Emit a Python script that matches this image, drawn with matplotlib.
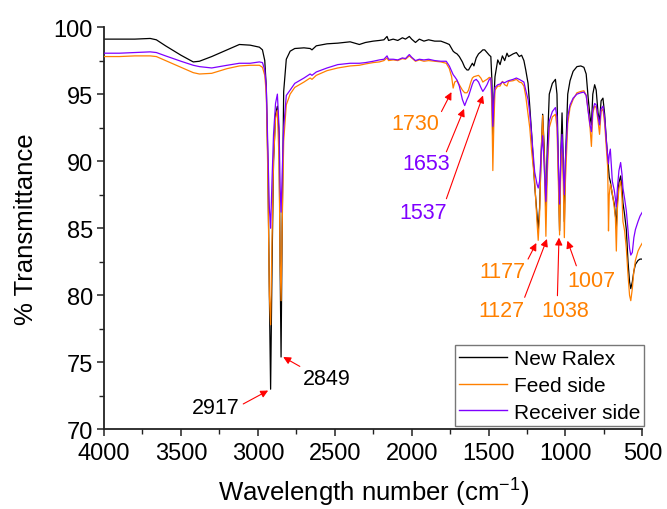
import matplotlib
matplotlib.use("Agg")
import matplotlib.pyplot as plt
from matplotlib.ticker import MultipleLocator

plt.rcParams['font.family'] = ['Liberation Sans', 'DejaVu Sans']
plt.rcParams['mathtext.fontset'] = 'custom'
plt.rcParams['mathtext.rm'] = 'Liberation Sans'

# ---------------- data ----------------
wavenumber = [4000, 3900, 3800, 3700, 3660, 3600, 3500, 3420, 3380, 3300, 3200, 3120,
              3050, 2990, 2970, 2955, 2945, 2935, 2925, 2917, 2908, 2898, 2885, 2873,
              2862, 2855, 2849, 2842, 2832, 2815, 2790, 2760, 2700, 2660, 2648, 2620,
              2550, 2480, 2400, 2340, 2300, 2250, 2210, 2180, 2160, 2150, 2120, 2090,
              2060, 2040, 2015, 2000, 1975, 1950, 1920, 1890, 1850, 1810, 1775, 1755,
              1740, 1730, 1720, 1705, 1690, 1670, 1655, 1640, 1630, 1615, 1605, 1595,
              1580, 1565, 1550, 1537, 1525, 1510, 1495, 1485, 1478, 1472, 1466, 1458,
              1440, 1425, 1410, 1395, 1380, 1370, 1340, 1319, 1300, 1285, 1270, 1258,
              1243, 1232, 1220, 1200, 1185, 1177, 1168, 1158, 1148, 1138, 1127, 1118,
              1105, 1085, 1065, 1055, 1045, 1038, 1030, 1022, 1014, 1007, 1000, 985,
              970, 950, 925, 900, 880, 865, 852, 840, 831, 822, 810, 800,
              788, 778, 768, 756, 745, 734, 725, 720, 715, 708, 695, 682,
              675, 669, 662, 652, 641, 632, 626, 615, 604, 593, 583, 575,
              565, 555, 545, 528, 515, 500]

new_ralex = [99.1, 99.1, 99.1, 99.15, 99.05, 98.6, 97.9, 97.4, 97.45, 97.8, 98.3, 98.7,
             98.65, 98.5, 98.3, 97.5, 95.5, 90.0, 80.0, 73.0, 82.0, 90.0, 93.5, 94.1,
             92.0, 82.0, 75.4, 85.0, 95.2, 97.6, 98.2, 98.4, 98.45, 98.4, 98.3, 98.6,
             98.75, 98.8, 98.9, 98.7, 98.85, 98.95, 99.0, 99.05, 99.3, 99.0, 99.1, 99.0,
             99.2, 99.1, 99.3, 99.1, 98.85, 99.1, 98.95, 99.05, 98.95, 98.95, 98.8, 98.7,
             98.4, 98.2, 98.1, 98.0, 97.8, 97.4, 97.0, 96.8, 96.8, 97.1, 97.3, 97.1,
             97.7, 98.0, 98.15, 98.3, 98.3, 98.1, 97.9, 97.8, 96.0, 91.3, 94.5, 96.3,
             97.55, 97.2, 97.85, 97.5, 98.05, 97.8, 98.0, 98.1, 97.8, 97.9, 97.5, 96.8,
             95.8, 94.1, 92.1, 88.2, 86.0, 84.9, 86.5, 90.5, 93.5, 91.0, 86.3, 91.0,
             95.0, 95.8, 96.1, 95.0, 89.0, 84.8, 90.5, 93.6, 90.0, 85.5, 90.0, 95.0,
             96.0, 96.7, 97.05, 97.1, 97.0, 96.5, 94.7, 93.3, 92.7, 95.0, 95.7, 95.3,
             93.6, 93.0, 94.5, 94.7, 93.5, 91.6, 90.2, 89.5, 88.8, 88.5, 87.5, 86.8,
             86.0, 85.0, 87.0, 88.4, 88.9, 88.0, 86.9, 86.0, 84.9, 82.5, 81.0, 80.5,
             81.0, 81.8, 82.3, 82.6, 82.7, 82.7]

feed_side = [97.8, 97.8, 97.85, 97.85, 97.8, 97.5, 97.0, 96.6, 96.5, 96.55, 96.9, 97.1,
             97.15, 97.15, 97.0, 96.4, 95.0, 89.0, 80.0, 77.8, 84.0, 90.0, 93.2, 93.8,
             90.0, 82.5, 79.6, 85.0, 91.5, 94.2, 95.0, 95.5, 95.9, 96.2, 96.1, 96.4,
             96.75, 96.95, 97.1, 97.15, 97.25, 97.35, 97.4, 97.5, 97.7, 97.5, 97.55, 97.5,
             97.65, 97.6, 97.85, 97.7, 97.45, 97.55, 97.45, 97.5, 97.45, 97.4, 97.3, 96.9,
             96.3, 95.45, 95.9, 96.0, 95.7, 95.3, 95.1, 95.1, 95.3, 95.9, 96.2, 96.3,
             96.35, 96.4, 96.2, 95.9, 96.0, 96.1, 96.25, 96.2, 94.0, 89.3, 92.5, 95.3,
             95.6, 95.6, 95.95, 95.7, 95.6, 95.95, 96.0, 96.1, 95.9, 95.85, 95.6, 94.85,
             93.5, 92.5, 90.8, 88.5, 85.5, 84.1, 86.0, 90.5, 93.4, 90.5, 84.4, 89.0,
             92.5, 93.3, 93.5, 92.5, 88.0, 84.5, 89.5, 91.5, 88.5, 84.3, 88.5, 92.8,
             94.0, 94.6, 95.1, 95.2, 95.25, 94.9, 93.8, 92.5, 91.1, 93.6, 94.1, 94.0,
             93.0, 92.0, 93.7, 93.9, 92.8, 91.0, 89.5, 84.8, 87.5, 88.3, 87.6, 86.5,
             85.8, 83.3, 86.5, 88.0, 88.5, 87.2, 85.5, 84.8, 83.5, 81.5, 80.0, 79.6,
             80.5, 81.8, 82.6, 83.3, 83.6, 83.9]

receiver_side = [98.05, 98.05, 98.1, 98.15, 98.1, 97.85, 97.45, 97.15, 97.05, 96.95, 97.15, 97.3,
                 97.3, 97.4, 97.35, 96.8, 95.5, 91.0, 86.5, 85.0, 88.5, 92.0, 94.3, 95.0,
                 92.5, 88.0, 86.2, 89.0, 92.5, 94.9, 95.3, 95.8, 96.2, 96.5, 96.4, 96.65,
                 96.95, 97.2, 97.3, 97.3, 97.35, 97.45, 97.55, 97.6, 97.85, 97.6, 97.6, 97.55,
                 97.7, 97.65, 97.95, 97.75, 97.5, 97.6, 97.55, 97.6, 97.5, 97.45, 97.45, 97.1,
                 96.7, 96.45, 96.3, 96.05, 95.6, 94.6, 94.15, 94.6, 94.85, 95.4, 95.75, 96.0,
                 96.1, 95.9, 95.5, 95.2, 95.4, 95.7, 96.1, 96.2, 95.0, 92.6, 94.5, 95.5,
                 95.7, 95.75, 95.9, 95.85, 95.95, 96.0, 96.1, 96.2, 96.1, 96.0, 95.9, 95.3,
                 94.6, 93.6, 92.0, 89.2, 88.3, 88.0, 88.5, 90.5, 91.9, 89.5, 87.0, 90.0,
                 93.0, 93.7, 94.0, 93.3, 89.5, 86.8, 90.5, 92.0, 89.5, 87.5, 90.0, 93.3,
                 94.2, 94.7, 95.0, 95.1, 95.15, 94.9, 93.7, 92.7, 92.2, 93.8, 94.3, 94.2,
                 93.3, 92.7, 93.9, 94.1, 93.2, 91.5, 90.3, 89.8, 90.5, 90.9, 88.5, 87.8,
                 87.2, 86.6, 88.0, 89.3, 89.9, 89.0, 88.0, 87.2, 86.3, 84.8, 83.5, 83.0,
                 83.2, 84.3, 84.9, 85.5, 85.9, 86.2]

series_names = ["New Ralex", "Feed side", "Receiver side"]
peak_labels = ["2917", "2849", "1730", "1653", "1537", "1177", "1127", "1038", "1007"]

# ---------------- figure ----------------
c_black = "#000000"
c_orange = "#FF8000"
c_purple = "#7F00FF"

fig = plt.figure(figsize=(6.67, 5.10), dpi=100)
ax = fig.add_axes([0.156, 0.156, 0.807, 0.789])

ax.plot(wavenumber, new_ralex, color=c_black, lw=0.9, label=series_names[0], zorder=2)
ax.plot(wavenumber, feed_side, color=c_orange, lw=0.9, label=series_names[1], zorder=3)
ax.plot(wavenumber, receiver_side, color=c_purple, lw=0.9, label=series_names[2], zorder=4)

ax.set_xlim(4000, 500)
ax.set_ylim(70, 100)
ax.xaxis.set_major_locator(MultipleLocator(500))
ax.xaxis.set_minor_locator(MultipleLocator(250))
ax.yaxis.set_major_locator(MultipleLocator(5))
ax.yaxis.set_minor_locator(MultipleLocator(2.5))

for s in ("top", "right"):
    ax.spines[s].set_visible(False)
for s in ("left", "bottom"):
    ax.spines[s].set_linewidth(1.3)
    ax.spines[s].set_color("#222222")

ax.tick_params(which="major", direction="out", length=5, width=1.1, labelsize=17,
               color="#222222", pad=3)
ax.tick_params(axis="x", which="major", pad=4)
ax.tick_params(which="minor", direction="out", length=3.5, width=1.0, color="#222222")

ax.set_xlabel("Wavelength number (cm$^{-1}$)", fontsize=18.5, labelpad=7)
ax.set_ylabel("% Transmittance", fontsize=18.5, labelpad=11)

# annotations: (label, colour, text position, arrow tail, arrow head)
ann = [
    (peak_labels[0], c_black, (3272, 71.6), (3095, 71.9), (2933, 72.9)),
    (peak_labels[1], c_black, (2553, 73.8), (2727, 74.7), (2835, 75.4)),
    (peak_labels[2], c_orange, (1973, 92.8), (1806, 93.7), (1741, 95.15)),
    (peak_labels[3], c_purple, (1908, 89.8), (1774, 90.7), (1659, 93.9)),
    (peak_labels[4], c_purple, (1927, 86.2), (1774, 87.2), (1536, 94.9)),
    (peak_labels[5], c_orange, (1408, 81.8), (1243, 82.7), (1189, 83.9)),
    (peak_labels[6], c_orange, (1414, 78.9), (1265, 79.85), (1120, 84.2)),
    (peak_labels[7], c_orange, (1002, 78.9), (1052, 79.97), (1042, 84.3)),
    (peak_labels[8], c_orange, (830, 81.1), (929, 82.2), (987, 84.07)),
]
for lab, col, tpos, tail, head in ann:
    ax.text(tpos[0], tpos[1], lab, color=col, fontsize=15.5, ha="center", va="center", zorder=6)
    ax.annotate("", xy=head, xytext=tail,
                arrowprops=dict(arrowstyle="-|>", color="red", lw=0.8,
                                mutation_scale=11, shrinkA=0, shrinkB=0), zorder=6)

leg = ax.legend(loc="lower right", bbox_to_anchor=(1.004, 0.009), borderaxespad=0,
                fontsize=15, frameon=True, fancybox=False, edgecolor="#555555",
                handlelength=2.3, handletextpad=0.35, labelspacing=0.37,
                borderpad=0.2)
leg.get_frame().set_linewidth(1.0)
for line in leg.get_lines():
    line.set_linewidth(1.0)

fig.savefig("out.png", dpi=100)
